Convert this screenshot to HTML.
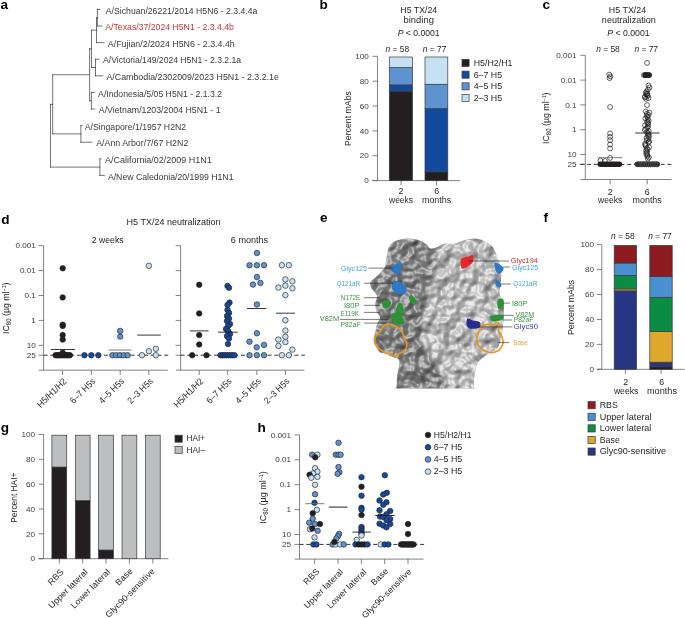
<!DOCTYPE html>
<html><head><meta charset="utf-8"><style>
html,body{margin:0;padding:0;background:#fff;}
body{width:685px;height:618px;overflow:hidden;}
svg{display:block;font-family:"Liberation Sans",sans-serif;will-change:transform;}
</style></head><body>
<svg width="685" height="618" viewBox="0 0 685 618">
<rect width="685" height="618" fill="#fff"/>
<text transform="translate(0.60,9.00) scale(1.0800,1)" x="0.00" y="0" font-size="12.60" fill="#000" font-weight="bold">a</text>
<text transform="translate(105.80,13.60) scale(0.9988,1)" x="0.00" y="0" font-size="8.70" fill="#3a3a3c">A/Sichuan/26221/2014 H5N6 - 2.3.4.4a</text>
<text transform="translate(105.30,30.20) scale(1.0019,1)" x="0.00" y="0" font-size="8.70" fill="#cc3339">A/Texas/37/2024 H5N1 - 2.3.4.4b</text>
<text transform="translate(107.80,46.80) scale(1.0202,1)" x="0.00" y="0" font-size="8.70" fill="#3a3a3c">A/Fujian/2/2024 H5N6 - 2.3.4.4h</text>
<text transform="translate(103.10,63.40) scale(0.9899,1)" x="0.00" y="0" font-size="8.70" fill="#3a3a3c">A/Victoria/149/2024 H5N1 - 2.3.2.1a</text>
<text transform="translate(106.40,80.00) scale(1.0172,1)" x="0.00" y="0" font-size="8.70" fill="#3a3a3c">A/Cambodia/2302009/2023 H5N1 - 2.3.2.1e</text>
<text transform="translate(98.10,96.60) scale(0.9968,1)" x="0.00" y="0" font-size="8.70" fill="#3a3a3c">A/Indonesia/5/05 H5N1 - 2.1.3.2</text>
<text transform="translate(98.80,113.20) scale(1.0095,1)" x="0.00" y="0" font-size="8.70" fill="#3a3a3c">A/Vietnam/1203/2004 H5N1 - 1</text>
<text transform="translate(84.80,129.80) scale(0.9963,1)" x="0.00" y="0" font-size="8.70" fill="#3a3a3c">A/Singapore/1/1957 H2N2</text>
<text transform="translate(96.20,146.40) scale(1.0140,1)" x="0.00" y="0" font-size="8.70" fill="#3a3a3c">A/Ann Arbor/7/67 H2N2</text>
<text transform="translate(105.00,163.00) scale(1.0319,1)" x="0.00" y="0" font-size="8.70" fill="#3a3a3c">A/California/02/2009 H1N1</text>
<text transform="translate(107.90,179.60)" x="0.00" y="0" font-size="8.70" fill="#3a3a3c">A/New Caledonia/20/1999 H1N1</text>
<line x1="97.40" y1="9.40" x2="97.40" y2="26.00" stroke="#3a3a3c" stroke-width="0.70" stroke-linecap="square"/>
<line x1="97.40" y1="9.40" x2="99.80" y2="9.40" stroke="#3a3a3c" stroke-width="0.70" stroke-linecap="square"/>
<line x1="97.40" y1="26.00" x2="101.90" y2="26.00" stroke="#3a3a3c" stroke-width="0.70" stroke-linecap="square"/>
<line x1="96.50" y1="17.70" x2="97.40" y2="17.70" stroke="#3a3a3c" stroke-width="0.70" stroke-linecap="square"/>
<line x1="96.50" y1="17.70" x2="96.50" y2="42.60" stroke="#3a3a3c" stroke-width="0.70" stroke-linecap="square"/>
<line x1="96.50" y1="42.60" x2="104.00" y2="42.60" stroke="#3a3a3c" stroke-width="0.70" stroke-linecap="square"/>
<line x1="91.50" y1="30.15" x2="96.50" y2="30.15" stroke="#3a3a3c" stroke-width="0.70" stroke-linecap="square"/>
<line x1="95.50" y1="59.20" x2="95.50" y2="75.80" stroke="#3a3a3c" stroke-width="0.70" stroke-linecap="square"/>
<line x1="95.50" y1="59.20" x2="99.10" y2="59.20" stroke="#3a3a3c" stroke-width="0.70" stroke-linecap="square"/>
<line x1="95.50" y1="75.80" x2="102.80" y2="75.80" stroke="#3a3a3c" stroke-width="0.70" stroke-linecap="square"/>
<line x1="91.50" y1="67.50" x2="95.50" y2="67.50" stroke="#3a3a3c" stroke-width="0.70" stroke-linecap="square"/>
<line x1="91.50" y1="30.15" x2="91.50" y2="67.50" stroke="#3a3a3c" stroke-width="0.70" stroke-linecap="square"/>
<line x1="89.60" y1="48.83" x2="91.50" y2="48.83" stroke="#3a3a3c" stroke-width="0.70" stroke-linecap="square"/>
<line x1="91.40" y1="92.40" x2="91.40" y2="109.00" stroke="#3a3a3c" stroke-width="0.70" stroke-linecap="square"/>
<line x1="91.40" y1="92.40" x2="94.70" y2="92.40" stroke="#3a3a3c" stroke-width="0.70" stroke-linecap="square"/>
<line x1="91.40" y1="109.00" x2="94.70" y2="109.00" stroke="#3a3a3c" stroke-width="0.70" stroke-linecap="square"/>
<line x1="89.60" y1="100.70" x2="91.40" y2="100.70" stroke="#3a3a3c" stroke-width="0.70" stroke-linecap="square"/>
<line x1="89.60" y1="48.83" x2="89.60" y2="100.70" stroke="#3a3a3c" stroke-width="0.70" stroke-linecap="square"/>
<line x1="52.70" y1="74.76" x2="89.60" y2="74.76" stroke="#3a3a3c" stroke-width="0.70" stroke-linecap="square"/>
<line x1="80.90" y1="125.60" x2="80.90" y2="142.20" stroke="#3a3a3c" stroke-width="0.70" stroke-linecap="square"/>
<line x1="80.90" y1="125.60" x2="82.00" y2="125.60" stroke="#3a3a3c" stroke-width="0.70" stroke-linecap="square"/>
<line x1="80.90" y1="142.20" x2="91.80" y2="142.20" stroke="#3a3a3c" stroke-width="0.70" stroke-linecap="square"/>
<line x1="52.70" y1="133.90" x2="80.90" y2="133.90" stroke="#3a3a3c" stroke-width="0.70" stroke-linecap="square"/>
<line x1="52.70" y1="74.76" x2="52.70" y2="133.90" stroke="#3a3a3c" stroke-width="0.70" stroke-linecap="square"/>
<line x1="50.50" y1="104.33" x2="52.70" y2="104.33" stroke="#3a3a3c" stroke-width="0.70" stroke-linecap="square"/>
<line x1="99.90" y1="158.80" x2="99.90" y2="175.40" stroke="#3a3a3c" stroke-width="0.70" stroke-linecap="square"/>
<line x1="99.90" y1="158.80" x2="101.00" y2="158.80" stroke="#3a3a3c" stroke-width="0.70" stroke-linecap="square"/>
<line x1="99.90" y1="175.40" x2="104.20" y2="175.40" stroke="#3a3a3c" stroke-width="0.70" stroke-linecap="square"/>
<line x1="50.50" y1="167.10" x2="99.90" y2="167.10" stroke="#3a3a3c" stroke-width="0.70" stroke-linecap="square"/>
<line x1="50.50" y1="104.33" x2="50.50" y2="167.10" stroke="#3a3a3c" stroke-width="0.70" stroke-linecap="square"/>
<text transform="translate(319.50,9.00) scale(1.0800,1)" x="0.00" y="0" font-size="12.60" fill="#000" font-weight="bold">b</text>
<text transform="translate(418.80,12.80) scale(0.9748,1)" x="-18.93" y="0" font-size="9.00" fill="#231f20">H5 TX/24</text>
<text transform="translate(418.70,23.00) scale(1.0473,1)" x="-14.51" y="0" font-size="9.00" fill="#231f20">binding</text>
<text transform="translate(418.70,36.20) scale(0.9592,1)" x="-21.89" y="0" font-size="9.00" fill="#231f20"><tspan font-style="italic">P</tspan> &lt; 0.0001</text>
<line x1="377.50" y1="56.30" x2="377.50" y2="180.60" stroke="#58595b" stroke-width="0.75"/>
<line x1="372.50" y1="180.60" x2="377.50" y2="180.60" stroke="#58595b" stroke-width="0.75"/>
<text transform="translate(368.80,183.25) scale(1.0200,1)" x="-4.45" y="0" font-size="8.00" fill="#3c3c3e">0</text>
<line x1="372.50" y1="155.74" x2="377.50" y2="155.74" stroke="#58595b" stroke-width="0.75"/>
<text transform="translate(368.80,158.39) scale(1.0200,1)" x="-8.90" y="0" font-size="8.00" fill="#3c3c3e">20</text>
<line x1="372.50" y1="130.88" x2="377.50" y2="130.88" stroke="#58595b" stroke-width="0.75"/>
<text transform="translate(368.80,133.53) scale(1.0200,1)" x="-8.90" y="0" font-size="8.00" fill="#3c3c3e">40</text>
<line x1="372.50" y1="106.02" x2="377.50" y2="106.02" stroke="#58595b" stroke-width="0.75"/>
<text transform="translate(368.80,108.67) scale(1.0200,1)" x="-8.90" y="0" font-size="8.00" fill="#3c3c3e">60</text>
<line x1="372.50" y1="81.16" x2="377.50" y2="81.16" stroke="#58595b" stroke-width="0.75"/>
<text transform="translate(368.80,83.81) scale(1.0200,1)" x="-8.90" y="0" font-size="8.00" fill="#3c3c3e">80</text>
<line x1="372.50" y1="56.30" x2="377.50" y2="56.30" stroke="#58595b" stroke-width="0.75"/>
<text transform="translate(368.80,58.95) scale(1.0200,1)" x="-13.35" y="0" font-size="8.00" fill="#3c3c3e">100</text>
<line x1="372.30" y1="180.60" x2="460.00" y2="180.60" stroke="#58595b" stroke-width="0.75"/>
<line x1="401.05" y1="180.60" x2="401.05" y2="185.40" stroke="#58595b" stroke-width="0.75"/>
<line x1="436.60" y1="180.60" x2="436.60" y2="185.40" stroke="#58595b" stroke-width="0.75"/>
<rect x="389.30" y="91.10" width="23.20" height="89.50" fill="#231f20" stroke="#3a3a3c" stroke-width="0.70"/>
<rect x="389.30" y="84.89" width="23.20" height="6.22" fill="#134a9e" stroke="#3a3a3c" stroke-width="0.70"/>
<rect x="389.30" y="67.49" width="23.20" height="17.40" fill="#5f93cf" stroke="#3a3a3c" stroke-width="0.70"/>
<rect x="389.30" y="57.00" width="23.20" height="10.49" fill="#c5e2f5" stroke="#3a3a3c" stroke-width="0.70"/>
<rect x="425.00" y="171.90" width="22.80" height="8.70" fill="#231f20" stroke="#3a3a3c" stroke-width="0.70"/>
<rect x="425.00" y="108.51" width="22.80" height="63.39" fill="#134a9e" stroke="#3a3a3c" stroke-width="0.70"/>
<rect x="425.00" y="84.27" width="22.80" height="24.24" fill="#5f93cf" stroke="#3a3a3c" stroke-width="0.70"/>
<rect x="425.00" y="57.00" width="22.80" height="27.27" fill="#c5e2f5" stroke="#3a3a3c" stroke-width="0.70"/>
<text transform="translate(397.40,51.70) scale(0.9360,1)" x="-12.64" y="0" font-size="9.00" fill="#231f20"><tspan font-style="italic">n</tspan> = 58</text>
<text transform="translate(434.60,51.70) scale(0.9360,1)" x="-12.64" y="0" font-size="9.00" fill="#231f20"><tspan font-style="italic">n</tspan> = 77</text>
<text transform="translate(401.05,193.70) scale(0.9800,1)" x="-2.50" y="0" font-size="9.00" fill="#231f20">2</text>
<text transform="translate(401.05,202.70) scale(0.9447,1)" x="-12.76" y="0" font-size="9.00" fill="#231f20">weeks</text>
<text transform="translate(436.60,193.70) scale(0.9800,1)" x="-2.50" y="0" font-size="9.00" fill="#231f20">6</text>
<text transform="translate(436.60,202.70) scale(0.9893,1)" x="-14.76" y="0" font-size="9.00" fill="#231f20">months</text>
<text transform="translate(351.30,118.50) rotate(-90) scale(0.9730,1)" x="-28.26" y="0" font-size="9.00" fill="#231f20">Percent mAbs</text>
<rect x="462.00" y="59.40" width="7.10" height="7.10" fill="#231f20" stroke="#3a3a3c" stroke-width="0.70"/>
<text transform="translate(473.70,65.90) scale(0.9800,1)" x="0.00" y="0" font-size="9.00" fill="#231f20">H5/H2/H1</text>
<rect x="462.00" y="71.10" width="7.10" height="7.10" fill="#134a9e" stroke="#3a3a3c" stroke-width="0.70"/>
<text transform="translate(473.70,77.60) scale(0.9800,1)" x="0.00" y="0" font-size="9.00" fill="#231f20">6–7 H5</text>
<rect x="462.00" y="82.80" width="7.10" height="7.10" fill="#5f93cf" stroke="#3a3a3c" stroke-width="0.70"/>
<text transform="translate(473.70,89.30) scale(0.9800,1)" x="0.00" y="0" font-size="9.00" fill="#231f20">4–5 H5</text>
<rect x="462.00" y="94.50" width="7.10" height="7.10" fill="#c5e2f5" stroke="#3a3a3c" stroke-width="0.70"/>
<text transform="translate(473.70,101.00) scale(0.9800,1)" x="0.00" y="0" font-size="9.00" fill="#231f20">2–3 H5</text>
<text transform="translate(542.60,9.20) scale(1.0800,1)" x="0.00" y="0" font-size="12.60" fill="#000" font-weight="bold">c</text>
<text transform="translate(627.50,12.80) scale(0.9906,1)" x="-18.93" y="0" font-size="9.00" fill="#231f20">H5 TX/24</text>
<text transform="translate(628.90,22.90) scale(1.0105,1)" x="-26.77" y="0" font-size="9.00" fill="#231f20">neutralization</text>
<text transform="translate(628.50,36.30) scale(0.9660,1)" x="-21.89" y="0" font-size="9.00" fill="#231f20"><tspan font-style="italic">P</tspan> &lt; 0.0001</text>
<line x1="585.30" y1="55.30" x2="585.30" y2="179.50" stroke="#58595b" stroke-width="0.75"/>
<line x1="580.30" y1="55.30" x2="585.30" y2="55.30" stroke="#58595b" stroke-width="0.75"/>
<text transform="translate(576.60,57.95) scale(1.0200,1)" x="-20.02" y="0" font-size="8.00" fill="#3c3c3e">0.001</text>
<line x1="580.30" y1="80.10" x2="585.30" y2="80.10" stroke="#58595b" stroke-width="0.75"/>
<text transform="translate(576.60,82.75) scale(1.0200,1)" x="-15.57" y="0" font-size="8.00" fill="#3c3c3e">0.01</text>
<line x1="580.30" y1="104.90" x2="585.30" y2="104.90" stroke="#58595b" stroke-width="0.75"/>
<text transform="translate(576.60,107.55) scale(1.0200,1)" x="-11.12" y="0" font-size="8.00" fill="#3c3c3e">0.1</text>
<line x1="580.30" y1="129.70" x2="585.30" y2="129.70" stroke="#58595b" stroke-width="0.75"/>
<text transform="translate(576.60,132.35) scale(1.0200,1)" x="-4.45" y="0" font-size="8.00" fill="#3c3c3e">1</text>
<line x1="580.30" y1="154.50" x2="585.30" y2="154.50" stroke="#58595b" stroke-width="0.75"/>
<text transform="translate(576.60,157.15) scale(1.0200,1)" x="-8.90" y="0" font-size="8.00" fill="#3c3c3e">10</text>
<line x1="580.30" y1="164.37" x2="585.30" y2="164.37" stroke="#58595b" stroke-width="0.75"/>
<text transform="translate(576.60,167.02) scale(1.0200,1)" x="-8.90" y="0" font-size="8.00" fill="#3c3c3e">25</text>
<line x1="580.40" y1="179.50" x2="671.50" y2="179.50" stroke="#58595b" stroke-width="0.75"/>
<line x1="610.10" y1="179.50" x2="610.10" y2="184.30" stroke="#58595b" stroke-width="0.75"/>
<line x1="647.20" y1="179.50" x2="647.20" y2="184.30" stroke="#58595b" stroke-width="0.75"/>
<text transform="translate(608.00,51.60) scale(0.9360,1)" x="-12.64" y="0" font-size="9.00" fill="#231f20"><tspan font-style="italic">n</tspan> = 58</text>
<text transform="translate(646.20,51.60) scale(0.9360,1)" x="-12.64" y="0" font-size="9.00" fill="#231f20"><tspan font-style="italic">n</tspan> = 77</text>
<text transform="translate(610.10,194.60) scale(0.9800,1)" x="-2.50" y="0" font-size="9.00" fill="#231f20">2</text>
<text transform="translate(610.10,203.40) scale(0.9447,1)" x="-12.76" y="0" font-size="9.00" fill="#231f20">weeks</text>
<text transform="translate(647.20,194.60) scale(0.9800,1)" x="-2.50" y="0" font-size="9.00" fill="#231f20">6</text>
<text transform="translate(647.20,203.40) scale(0.9893,1)" x="-14.76" y="0" font-size="9.00" fill="#231f20">months</text>
<text transform="translate(549.00,118.20) rotate(-90) scale(0.9188,1)" x="-28.08" y="0" font-size="9.60" fill="#231f20">IC<tspan font-size="6.53" dy="2.00">80</tspan><tspan dy="-2.00"> (µg ml</tspan><tspan font-size="5.76" dy="-3.20">−1</tspan><tspan dy="3.20">)</tspan></text>
<line x1="580.30" y1="164.37" x2="673.00" y2="164.37" stroke="#231f20" stroke-width="0.90" stroke-dasharray="4,2.7"/>
<circle cx="609.30" cy="74.60" r="2.45" fill="none" stroke="#231f20" stroke-width="0.70"/>
<circle cx="610.30" cy="76.40" r="2.45" fill="none" stroke="#231f20" stroke-width="0.70"/>
<circle cx="609.60" cy="78.10" r="2.45" fill="none" stroke="#231f20" stroke-width="0.70"/>
<circle cx="610.10" cy="107.00" r="2.45" fill="none" stroke="#231f20" stroke-width="0.70"/>
<circle cx="610.10" cy="133.40" r="2.45" fill="none" stroke="#231f20" stroke-width="0.70"/>
<circle cx="610.10" cy="136.90" r="2.45" fill="none" stroke="#231f20" stroke-width="0.70"/>
<circle cx="610.10" cy="140.10" r="2.45" fill="none" stroke="#231f20" stroke-width="0.70"/>
<circle cx="610.10" cy="144.50" r="2.45" fill="none" stroke="#231f20" stroke-width="0.70"/>
<circle cx="610.10" cy="148.50" r="2.45" fill="none" stroke="#231f20" stroke-width="0.70"/>
<circle cx="610.10" cy="157.90" r="2.45" fill="none" stroke="#231f20" stroke-width="0.70"/>
<circle cx="600.50" cy="160.80" r="2.45" fill="none" stroke="#231f20" stroke-width="0.70"/>
<circle cx="605.00" cy="161.00" r="2.45" fill="none" stroke="#231f20" stroke-width="0.70"/>
<rect x="597.6" y="161.62" width="24.5" height="5.5" rx="2.75" fill="#231f20"/>
<rect x="634.6" y="161.62" width="25.4" height="5.5" rx="2.75" fill="#262626"/>
<circle cx="638.00" cy="164.37" r="2.45" fill="none" stroke="#4a4a4a" stroke-width="0.70"/>
<circle cx="640.10" cy="164.37" r="2.45" fill="none" stroke="#4a4a4a" stroke-width="0.70"/>
<circle cx="642.20" cy="164.37" r="2.45" fill="none" stroke="#4a4a4a" stroke-width="0.70"/>
<circle cx="644.30" cy="164.37" r="2.45" fill="none" stroke="#4a4a4a" stroke-width="0.70"/>
<circle cx="646.40" cy="164.37" r="2.45" fill="none" stroke="#4a4a4a" stroke-width="0.70"/>
<circle cx="648.50" cy="164.37" r="2.45" fill="none" stroke="#4a4a4a" stroke-width="0.70"/>
<circle cx="650.60" cy="164.37" r="2.45" fill="none" stroke="#4a4a4a" stroke-width="0.70"/>
<circle cx="652.70" cy="164.37" r="2.45" fill="none" stroke="#4a4a4a" stroke-width="0.70"/>
<circle cx="654.80" cy="164.37" r="2.45" fill="none" stroke="#4a4a4a" stroke-width="0.70"/>
<circle cx="656.90" cy="164.37" r="2.45" fill="none" stroke="#4a4a4a" stroke-width="0.70"/>
<rect x="642.6" y="72.4" width="9.3" height="5.4" rx="2.7" fill="#2e2e2e"/>
<circle cx="647.00" cy="62.90" r="2.45" fill="none" stroke="#231f20" stroke-width="0.70"/>
<circle cx="644.00" cy="75.10" r="2.45" fill="none" stroke="#231f20" stroke-width="0.70"/>
<circle cx="645.00" cy="75.10" r="2.45" fill="none" stroke="#231f20" stroke-width="0.70"/>
<circle cx="646.00" cy="75.10" r="2.45" fill="none" stroke="#231f20" stroke-width="0.70"/>
<circle cx="647.00" cy="75.10" r="2.45" fill="none" stroke="#231f20" stroke-width="0.70"/>
<circle cx="648.00" cy="75.10" r="2.45" fill="none" stroke="#231f20" stroke-width="0.70"/>
<circle cx="649.00" cy="75.10" r="2.45" fill="none" stroke="#231f20" stroke-width="0.70"/>
<circle cx="648.50" cy="85.50" r="2.45" fill="none" stroke="#231f20" stroke-width="0.70"/>
<circle cx="649.50" cy="87.50" r="2.45" fill="none" stroke="#231f20" stroke-width="0.70"/>
<circle cx="648.00" cy="89.50" r="2.45" fill="none" stroke="#231f20" stroke-width="0.70"/>
<circle cx="646.50" cy="91.50" r="2.45" fill="none" stroke="#231f20" stroke-width="0.70"/>
<circle cx="645.85" cy="92.80" r="2.45" fill="none" stroke="#231f20" stroke-width="0.70"/>
<circle cx="647.19" cy="93.55" r="2.45" fill="none" stroke="#231f20" stroke-width="0.70"/>
<circle cx="646.43" cy="94.30" r="2.45" fill="none" stroke="#231f20" stroke-width="0.70"/>
<circle cx="647.46" cy="95.05" r="2.45" fill="none" stroke="#231f20" stroke-width="0.70"/>
<circle cx="647.55" cy="95.80" r="2.45" fill="none" stroke="#231f20" stroke-width="0.70"/>
<circle cx="645.09" cy="96.55" r="2.45" fill="none" stroke="#231f20" stroke-width="0.70"/>
<circle cx="644.86" cy="97.30" r="2.45" fill="none" stroke="#231f20" stroke-width="0.70"/>
<circle cx="648.48" cy="98.05" r="2.45" fill="none" stroke="#231f20" stroke-width="0.70"/>
<circle cx="645.94" cy="98.80" r="2.45" fill="none" stroke="#231f20" stroke-width="0.70"/>
<circle cx="647.00" cy="105.10" r="2.45" fill="none" stroke="#231f20" stroke-width="0.70"/>
<circle cx="645.78" cy="111.50" r="2.45" fill="none" stroke="#231f20" stroke-width="0.70"/>
<circle cx="649.28" cy="112.65" r="2.45" fill="none" stroke="#231f20" stroke-width="0.70"/>
<circle cx="646.86" cy="113.80" r="2.45" fill="none" stroke="#231f20" stroke-width="0.70"/>
<circle cx="648.55" cy="114.95" r="2.45" fill="none" stroke="#231f20" stroke-width="0.70"/>
<circle cx="646.89" cy="116.10" r="2.45" fill="none" stroke="#231f20" stroke-width="0.70"/>
<circle cx="647.64" cy="117.25" r="2.45" fill="none" stroke="#231f20" stroke-width="0.70"/>
<circle cx="645.39" cy="118.40" r="2.45" fill="none" stroke="#231f20" stroke-width="0.70"/>
<circle cx="647.62" cy="119.55" r="2.45" fill="none" stroke="#231f20" stroke-width="0.70"/>
<circle cx="648.69" cy="120.70" r="2.45" fill="none" stroke="#231f20" stroke-width="0.70"/>
<circle cx="647.11" cy="121.85" r="2.45" fill="none" stroke="#231f20" stroke-width="0.70"/>
<circle cx="648.11" cy="123.00" r="2.45" fill="none" stroke="#231f20" stroke-width="0.70"/>
<circle cx="647.79" cy="124.15" r="2.45" fill="none" stroke="#231f20" stroke-width="0.70"/>
<circle cx="644.99" cy="125.30" r="2.45" fill="none" stroke="#231f20" stroke-width="0.70"/>
<circle cx="648.19" cy="126.45" r="2.45" fill="none" stroke="#231f20" stroke-width="0.70"/>
<circle cx="647.42" cy="127.60" r="2.45" fill="none" stroke="#231f20" stroke-width="0.70"/>
<circle cx="646.09" cy="128.75" r="2.45" fill="none" stroke="#231f20" stroke-width="0.70"/>
<circle cx="644.84" cy="129.90" r="2.45" fill="none" stroke="#231f20" stroke-width="0.70"/>
<circle cx="648.68" cy="131.05" r="2.45" fill="none" stroke="#231f20" stroke-width="0.70"/>
<circle cx="646.87" cy="132.20" r="2.45" fill="none" stroke="#231f20" stroke-width="0.70"/>
<circle cx="648.01" cy="133.35" r="2.45" fill="none" stroke="#231f20" stroke-width="0.70"/>
<circle cx="648.74" cy="134.50" r="2.45" fill="none" stroke="#231f20" stroke-width="0.70"/>
<circle cx="647.98" cy="135.65" r="2.45" fill="none" stroke="#231f20" stroke-width="0.70"/>
<circle cx="648.94" cy="136.80" r="2.45" fill="none" stroke="#231f20" stroke-width="0.70"/>
<circle cx="646.52" cy="137.95" r="2.45" fill="none" stroke="#231f20" stroke-width="0.70"/>
<circle cx="648.38" cy="139.10" r="2.45" fill="none" stroke="#231f20" stroke-width="0.70"/>
<circle cx="646.75" cy="140.25" r="2.45" fill="none" stroke="#231f20" stroke-width="0.70"/>
<circle cx="649.00" cy="141.40" r="2.45" fill="none" stroke="#231f20" stroke-width="0.70"/>
<circle cx="648.74" cy="142.55" r="2.45" fill="none" stroke="#231f20" stroke-width="0.70"/>
<circle cx="645.15" cy="143.70" r="2.45" fill="none" stroke="#231f20" stroke-width="0.70"/>
<circle cx="645.33" cy="144.85" r="2.45" fill="none" stroke="#231f20" stroke-width="0.70"/>
<circle cx="645.70" cy="146.00" r="2.45" fill="none" stroke="#231f20" stroke-width="0.70"/>
<circle cx="649.14" cy="147.15" r="2.45" fill="none" stroke="#231f20" stroke-width="0.70"/>
<circle cx="646.71" cy="148.30" r="2.45" fill="none" stroke="#231f20" stroke-width="0.70"/>
<circle cx="647.58" cy="149.45" r="2.45" fill="none" stroke="#231f20" stroke-width="0.70"/>
<circle cx="646.08" cy="150.60" r="2.45" fill="none" stroke="#231f20" stroke-width="0.70"/>
<circle cx="647.03" cy="151.75" r="2.45" fill="none" stroke="#231f20" stroke-width="0.70"/>
<circle cx="646.47" cy="152.90" r="2.45" fill="none" stroke="#231f20" stroke-width="0.70"/>
<circle cx="646.31" cy="154.05" r="2.45" fill="none" stroke="#231f20" stroke-width="0.70"/>
<circle cx="647.39" cy="155.20" r="2.45" fill="none" stroke="#231f20" stroke-width="0.70"/>
<circle cx="647.39" cy="156.35" r="2.45" fill="none" stroke="#231f20" stroke-width="0.70"/>
<circle cx="648.86" cy="157.50" r="2.45" fill="none" stroke="#231f20" stroke-width="0.70"/>
<circle cx="647.84" cy="158.65" r="2.45" fill="none" stroke="#231f20" stroke-width="0.70"/>
<line x1="597.60" y1="157.70" x2="622.40" y2="157.70" stroke="#6d6e71" stroke-width="0.90"/>
<line x1="635.20" y1="133.00" x2="659.50" y2="133.00" stroke="#231f20" stroke-width="0.90"/>
<text transform="translate(1.20,223.60) scale(1.0800,1)" x="0.00" y="0" font-size="12.60" fill="#000" font-weight="bold">d</text>
<text transform="translate(173.60,224.60) scale(1.0022,1)" x="-46.95" y="0" font-size="9.00" fill="#231f20">H5 TX/24 neutralization</text>
<text transform="translate(107.70,243.40) scale(0.9632,1)" x="-16.51" y="0" font-size="9.00" fill="#231f20">2 weeks</text>
<text transform="translate(249.50,242.70) scale(1.0103,1)" x="-18.51" y="0" font-size="9.00" fill="#231f20">6 months</text>
<line x1="43.60" y1="245.70" x2="43.60" y2="370.20" stroke="#58595b" stroke-width="0.75"/>
<line x1="38.60" y1="245.70" x2="43.60" y2="245.70" stroke="#58595b" stroke-width="0.75"/>
<text transform="translate(35.80,248.35) scale(1.0200,1)" x="-20.02" y="0" font-size="8.00" fill="#3c3c3e">0.001</text>
<line x1="38.60" y1="270.60" x2="43.60" y2="270.60" stroke="#58595b" stroke-width="0.75"/>
<text transform="translate(35.80,273.25) scale(1.0200,1)" x="-15.57" y="0" font-size="8.00" fill="#3c3c3e">0.01</text>
<line x1="38.60" y1="295.50" x2="43.60" y2="295.50" stroke="#58595b" stroke-width="0.75"/>
<text transform="translate(35.80,298.15) scale(1.0200,1)" x="-11.12" y="0" font-size="8.00" fill="#3c3c3e">0.1</text>
<line x1="38.60" y1="320.40" x2="43.60" y2="320.40" stroke="#58595b" stroke-width="0.75"/>
<text transform="translate(35.80,323.05) scale(1.0200,1)" x="-4.45" y="0" font-size="8.00" fill="#3c3c3e">1</text>
<line x1="38.60" y1="345.30" x2="43.60" y2="345.30" stroke="#58595b" stroke-width="0.75"/>
<text transform="translate(35.80,347.95) scale(1.0200,1)" x="-8.90" y="0" font-size="8.00" fill="#3c3c3e">10</text>
<line x1="38.60" y1="355.21" x2="43.60" y2="355.21" stroke="#58595b" stroke-width="0.75"/>
<text transform="translate(35.80,357.86) scale(1.0200,1)" x="-8.90" y="0" font-size="8.00" fill="#3c3c3e">25</text>
<line x1="180.60" y1="245.70" x2="180.60" y2="370.20" stroke="#58595b" stroke-width="0.75"/>
<line x1="175.60" y1="245.70" x2="180.60" y2="245.70" stroke="#58595b" stroke-width="0.75"/>
<line x1="175.60" y1="270.60" x2="180.60" y2="270.60" stroke="#58595b" stroke-width="0.75"/>
<line x1="175.60" y1="295.50" x2="180.60" y2="295.50" stroke="#58595b" stroke-width="0.75"/>
<line x1="175.60" y1="320.40" x2="180.60" y2="320.40" stroke="#58595b" stroke-width="0.75"/>
<line x1="175.60" y1="345.30" x2="180.60" y2="345.30" stroke="#58595b" stroke-width="0.75"/>
<line x1="175.60" y1="355.21" x2="180.60" y2="355.21" stroke="#58595b" stroke-width="0.75"/>
<line x1="38.60" y1="370.20" x2="167.80" y2="370.20" stroke="#58595b" stroke-width="0.75"/>
<line x1="62.50" y1="370.20" x2="62.50" y2="375.00" stroke="#58595b" stroke-width="0.75"/>
<line x1="91.40" y1="370.20" x2="91.40" y2="375.00" stroke="#58595b" stroke-width="0.75"/>
<line x1="120.20" y1="370.20" x2="120.20" y2="375.00" stroke="#58595b" stroke-width="0.75"/>
<line x1="148.90" y1="370.20" x2="148.90" y2="375.00" stroke="#58595b" stroke-width="0.75"/>
<line x1="175.90" y1="370.20" x2="304.40" y2="370.20" stroke="#58595b" stroke-width="0.75"/>
<line x1="199.20" y1="370.20" x2="199.20" y2="375.00" stroke="#58595b" stroke-width="0.75"/>
<line x1="227.70" y1="370.20" x2="227.70" y2="375.00" stroke="#58595b" stroke-width="0.75"/>
<line x1="256.90" y1="370.20" x2="256.90" y2="375.00" stroke="#58595b" stroke-width="0.75"/>
<line x1="285.40" y1="370.20" x2="285.40" y2="375.00" stroke="#58595b" stroke-width="0.75"/>
<line x1="43.60" y1="355.21" x2="169.00" y2="355.21" stroke="#231f20" stroke-width="0.90" stroke-dasharray="4,2.7"/>
<line x1="180.60" y1="355.21" x2="305.00" y2="355.21" stroke="#231f20" stroke-width="0.90" stroke-dasharray="4,2.7"/>
<text transform="translate(67.10,381.80) rotate(-45) scale(0.9450,1)" x="-39.52" y="0" font-size="9.00" fill="#231f20">H5/H1/H2</text>
<text transform="translate(96.00,381.80) rotate(-45) scale(0.9450,1)" x="-33.52" y="0" font-size="9.00" fill="#231f20">6–7 H5s</text>
<text transform="translate(124.80,381.80) rotate(-45) scale(0.9450,1)" x="-33.52" y="0" font-size="9.00" fill="#231f20">4–5 H5s</text>
<text transform="translate(153.50,381.80) rotate(-45) scale(0.9450,1)" x="-33.52" y="0" font-size="9.00" fill="#231f20">2–3 H5s</text>
<text transform="translate(203.80,381.80) rotate(-45) scale(0.9450,1)" x="-39.52" y="0" font-size="9.00" fill="#231f20">H5/H1/H2</text>
<text transform="translate(232.30,381.80) rotate(-45) scale(0.9450,1)" x="-33.52" y="0" font-size="9.00" fill="#231f20">6–7 H5s</text>
<text transform="translate(261.50,381.80) rotate(-45) scale(0.9450,1)" x="-33.52" y="0" font-size="9.00" fill="#231f20">4–5 H5s</text>
<text transform="translate(290.00,381.80) rotate(-45) scale(0.9450,1)" x="-33.52" y="0" font-size="9.00" fill="#231f20">2–3 H5s</text>
<text transform="translate(9.10,308.20) rotate(-90) scale(0.9171,1)" x="-28.08" y="0" font-size="9.60" fill="#231f20">IC<tspan font-size="6.53" dy="2.00">80</tspan><tspan dy="-2.00"> (µg ml</tspan><tspan font-size="5.76" dy="-3.20">−1</tspan><tspan dy="3.20">)</tspan></text>
<circle cx="62.70" cy="268.30" r="2.75" fill="#231f20" stroke="#231f20" stroke-width="0.65"/>
<circle cx="62.70" cy="297.40" r="2.75" fill="#231f20" stroke="#231f20" stroke-width="0.65"/>
<circle cx="62.70" cy="324.70" r="2.75" fill="#231f20" stroke="#231f20" stroke-width="0.65"/>
<circle cx="62.70" cy="326.00" r="2.75" fill="#231f20" stroke="#231f20" stroke-width="0.65"/>
<circle cx="62.70" cy="335.10" r="2.75" fill="#231f20" stroke="#231f20" stroke-width="0.65"/>
<circle cx="62.70" cy="339.60" r="2.75" fill="#231f20" stroke="#231f20" stroke-width="0.65"/>
<circle cx="55.60" cy="355.21" r="2.75" fill="#231f20" stroke="#231f20" stroke-width="0.65"/>
<circle cx="56.90" cy="355.21" r="2.75" fill="#231f20" stroke="#231f20" stroke-width="0.65"/>
<circle cx="58.20" cy="355.21" r="2.75" fill="#231f20" stroke="#231f20" stroke-width="0.65"/>
<circle cx="59.50" cy="355.21" r="2.75" fill="#231f20" stroke="#231f20" stroke-width="0.65"/>
<circle cx="60.80" cy="355.21" r="2.75" fill="#231f20" stroke="#231f20" stroke-width="0.65"/>
<circle cx="62.10" cy="355.21" r="2.75" fill="#231f20" stroke="#231f20" stroke-width="0.65"/>
<circle cx="63.40" cy="355.21" r="2.75" fill="#231f20" stroke="#231f20" stroke-width="0.65"/>
<circle cx="64.70" cy="355.21" r="2.75" fill="#231f20" stroke="#231f20" stroke-width="0.65"/>
<circle cx="66.00" cy="355.21" r="2.75" fill="#231f20" stroke="#231f20" stroke-width="0.65"/>
<circle cx="67.30" cy="355.21" r="2.75" fill="#231f20" stroke="#231f20" stroke-width="0.65"/>
<circle cx="68.60" cy="355.21" r="2.75" fill="#231f20" stroke="#231f20" stroke-width="0.65"/>
<circle cx="69.90" cy="355.21" r="2.75" fill="#231f20" stroke="#231f20" stroke-width="0.65"/>
<circle cx="62.70" cy="352.70" r="2.75" fill="#231f20" stroke="#231f20" stroke-width="0.65"/>
<line x1="50.90" y1="349.50" x2="75.00" y2="349.50" stroke="#231f20" stroke-width="0.90"/>
<circle cx="84.40" cy="355.21" r="2.75" fill="#134a9e" stroke="#231f20" stroke-width="0.65"/>
<circle cx="91.30" cy="355.21" r="2.75" fill="#134a9e" stroke="#231f20" stroke-width="0.65"/>
<circle cx="98.30" cy="355.21" r="2.75" fill="#134a9e" stroke="#231f20" stroke-width="0.65"/>
<circle cx="120.20" cy="330.90" r="2.75" fill="#5f93cf" stroke="#231f20" stroke-width="0.65"/>
<circle cx="120.20" cy="336.60" r="2.75" fill="#5f93cf" stroke="#231f20" stroke-width="0.65"/>
<circle cx="112.40" cy="355.21" r="2.75" fill="#5f93cf" stroke="#231f20" stroke-width="0.65"/>
<circle cx="116.20" cy="355.21" r="2.75" fill="#5f93cf" stroke="#231f20" stroke-width="0.65"/>
<circle cx="120.00" cy="355.21" r="2.75" fill="#5f93cf" stroke="#231f20" stroke-width="0.65"/>
<circle cx="123.80" cy="355.21" r="2.75" fill="#5f93cf" stroke="#231f20" stroke-width="0.65"/>
<circle cx="127.60" cy="355.21" r="2.75" fill="#5f93cf" stroke="#231f20" stroke-width="0.65"/>
<line x1="108.50" y1="350.00" x2="131.50" y2="350.00" stroke="#6d6e71" stroke-width="0.90"/>
<circle cx="148.90" cy="265.80" r="2.75" fill="#c5e2f5" stroke="#231f20" stroke-width="0.65"/>
<circle cx="142.00" cy="355.21" r="2.75" fill="#c5e2f5" stroke="#231f20" stroke-width="0.65"/>
<circle cx="148.90" cy="351.20" r="2.75" fill="#c5e2f5" stroke="#231f20" stroke-width="0.65"/>
<circle cx="155.90" cy="348.80" r="2.75" fill="#c5e2f5" stroke="#231f20" stroke-width="0.65"/>
<circle cx="155.90" cy="355.21" r="2.75" fill="#c5e2f5" stroke="#231f20" stroke-width="0.65"/>
<line x1="137.30" y1="335.10" x2="160.80" y2="335.10" stroke="#231f20" stroke-width="0.90"/>
<circle cx="199.20" cy="284.80" r="2.75" fill="#231f20" stroke="#231f20" stroke-width="0.65"/>
<circle cx="199.20" cy="313.40" r="2.75" fill="#231f20" stroke="#231f20" stroke-width="0.65"/>
<circle cx="199.20" cy="335.10" r="2.75" fill="#231f20" stroke="#231f20" stroke-width="0.65"/>
<circle cx="199.20" cy="344.50" r="2.75" fill="#231f20" stroke="#231f20" stroke-width="0.65"/>
<circle cx="192.20" cy="355.21" r="2.75" fill="#231f20" stroke="#231f20" stroke-width="0.65"/>
<circle cx="206.50" cy="355.21" r="2.75" fill="#231f20" stroke="#231f20" stroke-width="0.65"/>
<line x1="189.90" y1="330.90" x2="208.60" y2="330.90" stroke="#231f20" stroke-width="0.90"/>
<circle cx="227.50" cy="285.90" r="2.75" fill="#134a9e" stroke="#231f20" stroke-width="0.65"/>
<circle cx="229.00" cy="287.80" r="2.75" fill="#134a9e" stroke="#231f20" stroke-width="0.65"/>
<circle cx="229.50" cy="302.60" r="2.75" fill="#134a9e" stroke="#231f20" stroke-width="0.65"/>
<circle cx="227.50" cy="305.00" r="2.75" fill="#134a9e" stroke="#231f20" stroke-width="0.65"/>
<circle cx="227.50" cy="310.00" r="2.75" fill="#134a9e" stroke="#231f20" stroke-width="0.65"/>
<circle cx="229.00" cy="313.00" r="2.75" fill="#134a9e" stroke="#231f20" stroke-width="0.65"/>
<circle cx="227.00" cy="316.00" r="2.75" fill="#134a9e" stroke="#231f20" stroke-width="0.65"/>
<circle cx="229.00" cy="318.50" r="2.75" fill="#134a9e" stroke="#231f20" stroke-width="0.65"/>
<circle cx="227.00" cy="321.00" r="2.75" fill="#134a9e" stroke="#231f20" stroke-width="0.65"/>
<circle cx="230.00" cy="324.00" r="2.75" fill="#134a9e" stroke="#231f20" stroke-width="0.65"/>
<circle cx="228.00" cy="326.00" r="2.75" fill="#134a9e" stroke="#231f20" stroke-width="0.65"/>
<circle cx="226.00" cy="329.00" r="2.75" fill="#134a9e" stroke="#231f20" stroke-width="0.65"/>
<circle cx="228.00" cy="331.00" r="2.75" fill="#134a9e" stroke="#231f20" stroke-width="0.65"/>
<circle cx="230.00" cy="334.00" r="2.75" fill="#134a9e" stroke="#231f20" stroke-width="0.65"/>
<circle cx="227.00" cy="336.00" r="2.75" fill="#134a9e" stroke="#231f20" stroke-width="0.65"/>
<circle cx="229.00" cy="338.50" r="2.75" fill="#134a9e" stroke="#231f20" stroke-width="0.65"/>
<circle cx="228.00" cy="344.00" r="2.75" fill="#134a9e" stroke="#231f20" stroke-width="0.65"/>
<circle cx="220.50" cy="355.21" r="2.75" fill="#134a9e" stroke="#231f20" stroke-width="0.65"/>
<circle cx="222.50" cy="355.21" r="2.75" fill="#134a9e" stroke="#231f20" stroke-width="0.65"/>
<circle cx="224.50" cy="355.21" r="2.75" fill="#134a9e" stroke="#231f20" stroke-width="0.65"/>
<circle cx="226.50" cy="355.21" r="2.75" fill="#134a9e" stroke="#231f20" stroke-width="0.65"/>
<circle cx="228.50" cy="355.21" r="2.75" fill="#134a9e" stroke="#231f20" stroke-width="0.65"/>
<circle cx="230.50" cy="355.21" r="2.75" fill="#134a9e" stroke="#231f20" stroke-width="0.65"/>
<circle cx="232.50" cy="355.21" r="2.75" fill="#134a9e" stroke="#231f20" stroke-width="0.65"/>
<circle cx="234.50" cy="355.21" r="2.75" fill="#134a9e" stroke="#231f20" stroke-width="0.65"/>
<line x1="218.00" y1="332.20" x2="237.60" y2="332.20" stroke="#231f20" stroke-width="0.90"/>
<circle cx="256.90" cy="253.00" r="2.75" fill="#5f93cf" stroke="#231f20" stroke-width="0.65"/>
<circle cx="249.50" cy="265.20" r="2.75" fill="#5f93cf" stroke="#231f20" stroke-width="0.65"/>
<circle cx="256.90" cy="265.20" r="2.75" fill="#5f93cf" stroke="#231f20" stroke-width="0.65"/>
<circle cx="264.00" cy="265.20" r="2.75" fill="#5f93cf" stroke="#231f20" stroke-width="0.65"/>
<circle cx="256.90" cy="277.10" r="2.75" fill="#5f93cf" stroke="#231f20" stroke-width="0.65"/>
<circle cx="260.40" cy="282.90" r="2.75" fill="#5f93cf" stroke="#231f20" stroke-width="0.65"/>
<circle cx="253.00" cy="284.60" r="2.75" fill="#5f93cf" stroke="#231f20" stroke-width="0.65"/>
<circle cx="256.90" cy="304.50" r="2.75" fill="#5f93cf" stroke="#231f20" stroke-width="0.65"/>
<circle cx="256.90" cy="333.30" r="2.75" fill="#5f93cf" stroke="#231f20" stroke-width="0.65"/>
<circle cx="249.50" cy="341.70" r="2.75" fill="#5f93cf" stroke="#231f20" stroke-width="0.65"/>
<circle cx="264.00" cy="344.90" r="2.75" fill="#5f93cf" stroke="#231f20" stroke-width="0.65"/>
<circle cx="256.70" cy="347.30" r="2.75" fill="#5f93cf" stroke="#231f20" stroke-width="0.65"/>
<circle cx="249.50" cy="355.21" r="2.75" fill="#5f93cf" stroke="#231f20" stroke-width="0.65"/>
<circle cx="256.90" cy="355.21" r="2.75" fill="#5f93cf" stroke="#231f20" stroke-width="0.65"/>
<circle cx="264.00" cy="355.21" r="2.75" fill="#5f93cf" stroke="#231f20" stroke-width="0.65"/>
<line x1="247.10" y1="308.50" x2="266.30" y2="308.50" stroke="#231f20" stroke-width="0.90"/>
<circle cx="281.90" cy="265.20" r="2.75" fill="#c5e2f5" stroke="#231f20" stroke-width="0.65"/>
<circle cx="288.90" cy="265.20" r="2.75" fill="#c5e2f5" stroke="#231f20" stroke-width="0.65"/>
<circle cx="285.40" cy="279.40" r="2.75" fill="#c5e2f5" stroke="#231f20" stroke-width="0.65"/>
<circle cx="292.40" cy="281.30" r="2.75" fill="#c5e2f5" stroke="#231f20" stroke-width="0.65"/>
<circle cx="278.40" cy="287.60" r="2.75" fill="#c5e2f5" stroke="#231f20" stroke-width="0.65"/>
<circle cx="285.40" cy="285.70" r="2.75" fill="#c5e2f5" stroke="#231f20" stroke-width="0.65"/>
<circle cx="292.40" cy="288.30" r="2.75" fill="#c5e2f5" stroke="#231f20" stroke-width="0.65"/>
<circle cx="285.40" cy="295.10" r="2.75" fill="#c5e2f5" stroke="#231f20" stroke-width="0.65"/>
<circle cx="285.40" cy="320.20" r="2.75" fill="#c5e2f5" stroke="#231f20" stroke-width="0.65"/>
<circle cx="285.40" cy="330.50" r="2.75" fill="#c5e2f5" stroke="#231f20" stroke-width="0.65"/>
<circle cx="285.40" cy="336.80" r="2.75" fill="#c5e2f5" stroke="#231f20" stroke-width="0.65"/>
<circle cx="278.40" cy="339.60" r="2.75" fill="#c5e2f5" stroke="#231f20" stroke-width="0.65"/>
<circle cx="285.40" cy="342.10" r="2.75" fill="#c5e2f5" stroke="#231f20" stroke-width="0.65"/>
<circle cx="278.40" cy="345.90" r="2.75" fill="#c5e2f5" stroke="#231f20" stroke-width="0.65"/>
<circle cx="292.40" cy="349.60" r="2.75" fill="#c5e2f5" stroke="#231f20" stroke-width="0.65"/>
<circle cx="281.90" cy="355.21" r="2.75" fill="#c5e2f5" stroke="#231f20" stroke-width="0.65"/>
<circle cx="288.90" cy="355.21" r="2.75" fill="#c5e2f5" stroke="#231f20" stroke-width="0.65"/>
<line x1="276.10" y1="313.20" x2="295.00" y2="313.20" stroke="#231f20" stroke-width="0.90"/>
<text transform="translate(320.00,222.00) scale(1.0800,1)" x="0.00" y="0" font-size="12.60" fill="#000" font-weight="bold">e</text>
<defs><clipPath id="pc"><path d="M400.0,388.5 C387.8,388.5 397.1,389.2 396.6,388.5 C396.1,387.8 396.7,386.4 396.8,384.0 C396.9,381.6 396.9,378.1 397.3,374.3 C397.8,370.5 400.2,363.9 399.5,361.0 C398.8,358.1 395.6,358.2 393.0,357.0 C390.4,355.8 386.4,354.5 384.0,353.5 C381.6,352.5 380.4,353.1 378.7,351.0 C377.0,348.9 374.3,344.1 373.7,341.0 C373.1,337.9 374.8,335.4 375.3,332.6 C375.9,329.8 376.1,326.7 377.0,324.2 C377.9,321.7 380.4,319.4 380.4,317.5 C380.4,315.6 377.9,314.8 377.0,312.5 C376.1,310.2 375.3,306.8 375.3,304.0 C375.3,301.2 377.6,298.2 377.0,295.7 C376.4,293.2 373.1,291.2 372.0,289.0 C370.9,286.8 369.6,284.3 370.3,282.3 C371.0,280.3 373.6,279.4 376.0,277.0 C378.4,274.6 382.8,270.7 384.5,268.0 C386.2,265.3 385.6,263.1 386.0,261.0 C386.4,258.9 386.5,257.7 387.0,255.4 C387.5,253.1 387.7,249.2 388.8,247.0 C389.9,244.8 391.9,243.2 393.8,242.0 C395.8,240.8 398.0,240.2 400.5,239.6 C403.0,239.0 405.8,238.5 408.9,238.6 C412.0,238.7 416.2,239.5 419.0,240.3 C421.8,241.2 423.8,242.3 425.7,243.7 C427.6,245.1 428.7,248.1 430.7,248.7 C432.7,249.2 435.2,247.8 437.5,247.0 C439.8,246.2 441.4,244.2 444.2,243.7 C447.0,243.1 450.8,244.3 454.2,243.7 C457.6,243.1 460.9,241.2 464.3,240.3 C467.7,239.5 471.3,238.6 474.4,238.6 C477.5,238.6 480.0,239.2 482.8,240.3 C485.6,241.4 489.0,243.1 491.2,245.3 C493.4,247.5 494.8,250.6 496.2,253.7 C497.6,256.8 498.8,260.4 499.6,263.8 C500.5,267.2 501.1,270.5 501.3,273.9 C501.5,277.3 500.9,280.6 500.6,284.0 C500.3,287.4 499.2,291.2 499.6,294.0 C500.0,296.8 502.3,297.3 503.0,300.7 C503.7,304.1 504.0,310.0 504.0,314.2 C504.0,318.4 503.4,322.1 503.0,326.0 C502.6,329.9 502.2,334.1 501.3,337.7 C500.4,341.3 499.6,345.2 497.9,347.7 C496.2,350.2 493.4,351.3 491.2,352.8 C489.0,354.3 486.8,354.7 484.5,356.5 C482.2,358.3 479.0,360.5 477.4,363.5 C475.8,366.5 475.3,370.9 474.7,374.3 C474.1,377.7 474.1,381.6 474.0,384.0 C473.9,386.4 474.5,387.8 473.8,388.5 C473.1,389.2 482.3,388.5 470.0,388.5 C457.7,388.5 412.2,388.5 400.0,388.5 Z"/></clipPath><filter id="bl" x="340" y="220" width="200" height="200" filterUnits="userSpaceOnUse"><feGaussianBlur stdDeviation="2.2"/></filter><filter id="surf" x="360" y="230" width="150" height="165" filterUnits="userSpaceOnUse"><feTurbulence type="fractalNoise" baseFrequency="0.085" numOctaves="2" seed="11" result="n"/><feDiffuseLighting in="n" surfaceScale="5" diffuseConstant="1.1" lighting-color="#ffffff" result="l"><feDistantLight azimuth="235" elevation="55"/></feDiffuseLighting><feSpecularLighting in="n" surfaceScale="5" specularConstant="1.0" specularExponent="25" lighting-color="#ffffff" result="s"><feDistantLight azimuth="235" elevation="55"/></feSpecularLighting><feComposite in="l" in2="SourceGraphic" operator="arithmetic" k1="1" k2="0" k3="0" k4="0" result="m"/><feComposite in="s" in2="SourceAlpha" operator="in" result="s2"/><feComposite in="m" in2="s2" operator="arithmetic" k1="0" k2="1" k3="0.35" k4="0"/></filter></defs>
<g filter="url(#surf)">
<path d="M400.0,388.5 C387.8,388.5 397.1,389.2 396.6,388.5 C396.1,387.8 396.7,386.4 396.8,384.0 C396.9,381.6 396.9,378.1 397.3,374.3 C397.8,370.5 400.2,363.9 399.5,361.0 C398.8,358.1 395.6,358.2 393.0,357.0 C390.4,355.8 386.4,354.5 384.0,353.5 C381.6,352.5 380.4,353.1 378.7,351.0 C377.0,348.9 374.3,344.1 373.7,341.0 C373.1,337.9 374.8,335.4 375.3,332.6 C375.9,329.8 376.1,326.7 377.0,324.2 C377.9,321.7 380.4,319.4 380.4,317.5 C380.4,315.6 377.9,314.8 377.0,312.5 C376.1,310.2 375.3,306.8 375.3,304.0 C375.3,301.2 377.6,298.2 377.0,295.7 C376.4,293.2 373.1,291.2 372.0,289.0 C370.9,286.8 369.6,284.3 370.3,282.3 C371.0,280.3 373.6,279.4 376.0,277.0 C378.4,274.6 382.8,270.7 384.5,268.0 C386.2,265.3 385.6,263.1 386.0,261.0 C386.4,258.9 386.5,257.7 387.0,255.4 C387.5,253.1 387.7,249.2 388.8,247.0 C389.9,244.8 391.9,243.2 393.8,242.0 C395.8,240.8 398.0,240.2 400.5,239.6 C403.0,239.0 405.8,238.5 408.9,238.6 C412.0,238.7 416.2,239.5 419.0,240.3 C421.8,241.2 423.8,242.3 425.7,243.7 C427.6,245.1 428.7,248.1 430.7,248.7 C432.7,249.2 435.2,247.8 437.5,247.0 C439.8,246.2 441.4,244.2 444.2,243.7 C447.0,243.1 450.8,244.3 454.2,243.7 C457.6,243.1 460.9,241.2 464.3,240.3 C467.7,239.5 471.3,238.6 474.4,238.6 C477.5,238.6 480.0,239.2 482.8,240.3 C485.6,241.4 489.0,243.1 491.2,245.3 C493.4,247.5 494.8,250.6 496.2,253.7 C497.6,256.8 498.8,260.4 499.6,263.8 C500.5,267.2 501.1,270.5 501.3,273.9 C501.5,277.3 500.9,280.6 500.6,284.0 C500.3,287.4 499.2,291.2 499.6,294.0 C500.0,296.8 502.3,297.3 503.0,300.7 C503.7,304.1 504.0,310.0 504.0,314.2 C504.0,318.4 503.4,322.1 503.0,326.0 C502.6,329.9 502.2,334.1 501.3,337.7 C500.4,341.3 499.6,345.2 497.9,347.7 C496.2,350.2 493.4,351.3 491.2,352.8 C489.0,354.3 486.8,354.7 484.5,356.5 C482.2,358.3 479.0,360.5 477.4,363.5 C475.8,366.5 475.3,370.9 474.7,374.3 C474.1,377.7 474.1,381.6 474.0,384.0 C473.9,386.4 474.5,387.8 473.8,388.5 C473.1,389.2 482.3,388.5 470.0,388.5 C457.7,388.5 412.2,388.5 400.0,388.5 Z" fill="#bebebe"/>
<g clip-path="url(#pc)"><path d="M400.0,388.5 C391.8,388.6 397.1,389.2 396.6,388.5 C396.1,387.8 396.7,386.4 396.8,384.0 C396.9,381.6 396.9,378.1 397.3,374.3 C397.8,370.5 400.2,363.9 399.5,361.0 C398.8,358.1 395.6,358.2 393.0,357.0 C390.4,355.8 386.4,354.5 384.0,353.5 C381.6,352.5 380.4,353.1 378.7,351.0 C377.0,348.9 374.3,344.1 373.7,341.0 C373.1,337.9 374.8,335.4 375.3,332.6 C375.9,329.8 376.1,326.7 377.0,324.2 C377.9,321.7 380.4,319.4 380.4,317.5 C380.4,315.6 377.9,314.8 377.0,312.5 C376.1,310.2 375.3,306.8 375.3,304.0 C375.3,301.2 377.6,298.2 377.0,295.7 C376.4,293.2 373.1,291.2 372.0,289.0 C370.9,286.8 369.6,284.3 370.3,282.3 C371.0,280.3 373.6,279.4 376.0,277.0 C378.4,274.6 382.8,270.7 384.5,268.0 C386.2,265.3 385.6,263.1 386.0,261.0 C386.4,258.9 386.5,257.7 387.0,255.4 C387.5,253.1 387.7,249.2 388.8,247.0 C389.9,244.8 391.9,243.2 393.8,242.0 C395.8,240.8 398.0,240.2 400.5,239.6 C403.0,239.0 405.8,238.5 408.9,238.6 C412.0,238.7 416.2,239.5 419.0,240.3 C421.8,241.2 423.8,242.3 425.7,243.7 C427.6,245.1 428.7,248.1 430.7,248.7 C432.7,249.2 436.9,243.9 437.5,247.0 C438.1,250.1 435.1,260.8 434.0,267.0 C432.9,273.2 431.8,278.4 430.7,284.0 C429.6,289.6 428.5,295.7 427.4,300.7 C426.3,305.7 425.1,309.5 424.0,314.0 C422.9,318.5 421.0,323.1 420.7,327.6 C420.4,332.1 420.6,336.0 422.3,341.0 C424.0,346.0 427.6,352.2 430.7,357.8 C433.8,363.4 438.3,369.6 440.8,374.6 C443.3,379.6 452.6,385.7 445.8,388.0 C439.0,390.3 408.2,388.4 400.0,388.5 Z" fill="#7e7e7e" filter="url(#bl)"/></g>
</g>
<path d="M391.5,267.0 C392.8,265.4 398.9,262.2 400.5,262.5 C402.1,262.8 401.3,267.0 401.0,269.0 C400.7,271.0 399.8,274.0 398.5,274.5 C397.2,275.0 394.2,273.2 393.0,272.0 C391.8,270.8 390.2,268.6 391.5,267.0 Z" fill="#2f78c8"/>
<path d="M392.1,283.2 C392.7,281.9 393.4,280.5 395.4,280.8 C397.4,281.1 402.4,283.0 404.3,284.9 C406.2,286.8 407.5,290.5 406.7,292.1 C405.9,293.7 401.3,294.6 399.4,294.6 C397.5,294.6 396.6,293.1 395.4,292.1 C394.2,291.2 392.7,290.4 392.1,288.9 C391.6,287.4 391.6,284.5 392.1,283.2 Z" fill="#2f78c8"/>
<path d="M383.2,301.0 C384.1,300.3 386.8,299.9 388.1,300.2 C389.5,300.5 391.2,301.5 391.3,302.7 C391.4,303.9 390.1,306.6 388.9,307.5 C387.7,308.4 385.1,308.8 384.0,308.3 C382.9,307.8 382.5,305.5 382.4,304.3 C382.3,303.1 382.2,301.7 383.2,301.0 Z" fill="#2b9237"/>
<path d="M409.1,296.2 C409.8,295.5 412.8,295.9 414.0,297.0 C415.2,298.1 416.7,301.5 416.4,302.7 C416.1,303.9 413.5,304.6 412.4,304.3 C411.3,304.0 410.4,302.4 409.9,301.0 C409.3,299.6 408.4,296.9 409.1,296.2 Z" fill="#2b9237"/>
<path d="M397.8,304.3 C398.7,302.8 400.9,302.3 401.8,303.5 C402.8,304.7 403.9,309.7 403.5,311.6 C403.1,313.5 400.6,314.7 399.4,314.8 C398.2,314.9 396.5,314.1 396.2,312.4 C395.9,310.6 396.9,305.8 397.8,304.3 Z" fill="#2b9237"/>
<path d="M392.1,314.0 C393.2,313.1 396.0,312.7 397.8,313.2 C399.6,313.7 401.6,315.6 402.7,317.2 C403.8,318.8 404.9,321.7 404.3,322.9 C403.8,324.1 401.1,324.5 399.4,324.5 C397.6,324.5 395.1,323.8 393.8,322.9 C392.5,321.9 391.6,320.3 391.3,318.8 C391.0,317.3 391.0,314.9 392.1,314.0 Z" fill="#2b9237"/>
<path d="M461.5,258.5 C462.7,257.3 466.2,257.3 468.0,256.8 C469.8,256.3 471.6,254.5 472.5,255.3 C473.4,256.1 473.9,259.7 473.2,261.5 C472.5,263.3 470.3,264.8 468.5,266.0 C466.7,267.2 463.8,269.1 462.5,268.8 C461.2,268.5 461.0,265.7 460.8,264.0 C460.6,262.3 460.3,259.7 461.5,258.5 Z" fill="#e8262a"/>
<path d="M495.0,262.5 C496.3,262.2 502.8,266.1 503.5,268.0 C504.2,269.9 500.8,273.7 499.5,274.0 C498.2,274.3 496.2,271.9 495.5,270.0 C494.8,268.1 493.7,262.8 495.0,262.5 Z" fill="#2f78c8"/>
<path d="M496.0,279.0 C497.0,279.2 501.2,284.1 501.5,285.5 C501.8,286.9 499.0,287.8 498.0,287.5 C497.0,287.2 495.8,285.4 495.5,284.0 C495.2,282.6 495.0,278.8 496.0,279.0 Z" fill="#2f78c8"/>
<path d="M497.5,300.0 C498.2,298.3 502.0,298.0 503.0,299.0 C504.0,300.0 504.2,304.3 503.5,306.0 C502.8,307.7 499.5,310.0 498.5,309.0 C497.5,308.0 496.8,301.7 497.5,300.0 Z" fill="#2b9237"/>
<path d="M490.0,316.5 C491.4,315.3 499.3,314.1 501.5,314.5 C503.7,314.9 504.4,317.8 503.0,319.0 C501.6,320.2 495.2,321.9 493.0,321.5 C490.8,321.1 488.6,317.7 490.0,316.5 Z" fill="#2b9237"/>
<path d="M467.4,318.8 C468.5,318.0 471.0,319.9 473.0,320.5 C475.0,321.1 478.3,321.0 479.5,322.1 C480.7,323.2 480.7,325.8 480.0,326.9 C479.3,328.0 477.2,328.2 475.5,328.5 C473.8,328.8 471.3,329.0 469.8,328.5 C468.3,328.0 467.0,326.9 466.6,325.3 C466.2,323.7 466.3,319.6 467.4,318.8 Z" fill="#262d8a"/>
<path d="M382.7,327.0 C383.8,325.9 385.2,324.7 387.0,324.4 C388.8,324.1 391.4,324.6 393.3,325.2 C395.2,325.8 397.0,326.6 398.6,328.0 C400.2,329.4 401.9,331.7 402.8,333.3 C403.7,334.9 403.2,335.7 403.9,337.5 C404.6,339.3 406.8,341.8 407.0,343.9 C407.2,346.0 406.1,348.6 404.9,350.2 C403.7,351.8 401.2,352.4 399.6,353.4 C398.0,354.4 396.8,355.9 395.4,356.1 C394.0,356.3 393.0,355.1 391.2,354.5 C389.4,353.9 386.9,353.4 384.8,352.3 C382.7,351.2 380.2,349.7 378.5,348.1 C376.8,346.5 375.1,344.9 374.7,342.8 C374.3,340.7 375.4,337.3 376.4,335.4 C377.4,333.5 379.6,332.6 380.6,331.2 C381.7,329.8 381.6,328.1 382.7,327.0 Z" fill="none" stroke="#e4961f" stroke-width="1.6"/>
<path d="M482.2,325.9 C483.4,325.1 485.7,324.5 487.5,324.4 C489.3,324.3 491.2,325.5 492.8,325.2 C494.4,324.9 495.9,322.4 497.0,322.3 C498.1,322.2 498.8,323.3 499.1,324.8 C499.4,326.3 498.2,329.1 498.7,331.2 C499.2,333.3 501.6,335.4 502.3,337.5 C503.0,339.6 503.4,341.8 502.9,343.9 C502.4,346.0 500.6,348.8 499.1,350.2 C497.6,351.6 495.6,351.9 493.8,352.3 C492.0,352.7 490.4,352.8 488.5,352.3 C486.6,351.8 483.9,350.4 482.2,349.2 C480.4,348.0 478.9,346.5 478.0,344.9 C477.1,343.3 476.9,341.5 476.9,339.6 C476.9,337.7 477.5,335.1 478.0,333.3 C478.5,331.6 479.4,330.3 480.1,329.1 C480.8,327.9 481.0,326.7 482.2,325.9 Z" fill="none" stroke="#e4961f" stroke-width="1.6"/>
<text transform="translate(367.00,271.40) scale(1.0125,1)" x="-25.68" y="0" font-size="7.00" fill="#3aa6e0">Glyc125</text>
<line x1="368.40" y1="268.10" x2="393.30" y2="268.10" stroke="#231f20" stroke-width="0.60"/>
<text transform="translate(360.20,285.90) scale(0.9052,1)" x="-26.07" y="0" font-size="7.00" fill="#3aa6e0">Q121aR</text>
<line x1="364.00" y1="283.20" x2="393.30" y2="283.20" stroke="#231f20" stroke-width="0.60"/>
<text transform="translate(360.20,300.30) scale(0.9064,1)" x="-21.40" y="0" font-size="7.00" fill="#3b9144">N172E</text>
<line x1="364.00" y1="297.70" x2="380.00" y2="297.70" stroke="#231f20" stroke-width="0.60"/>
<text transform="translate(359.40,307.60) scale(1.0694,1)" x="-14.40" y="0" font-size="7.00" fill="#3b9144">I80P</text>
<line x1="364.00" y1="305.30" x2="380.00" y2="305.30" stroke="#231f20" stroke-width="0.60"/>
<text transform="translate(358.90,316.10) scale(0.8976,1)" x="-20.50" y="0" font-size="7.00" fill="#3b9144">E119K</text>
<line x1="364.00" y1="312.40" x2="380.00" y2="312.40" stroke="#231f20" stroke-width="0.60"/>
<text transform="translate(339.20,321.40) scale(1.0663,1)" x="-18.29" y="0" font-size="7.00" fill="#3b9144">V82M</text>
<line x1="339.90" y1="319.40" x2="388.00" y2="319.40" stroke="#231f20" stroke-width="0.60"/>
<text transform="translate(360.70,326.60) scale(0.9794,1)" x="-20.62" y="0" font-size="7.00" fill="#3b9144">P82aF</text>
<line x1="364.00" y1="323.10" x2="386.80" y2="323.10" stroke="#231f20" stroke-width="0.60"/>
<text transform="translate(510.80,263.00) scale(1.0592,1)" x="0.00" y="0" font-size="7.00" fill="#e8262a">Glyc194</text>
<line x1="468.00" y1="261.00" x2="509.10" y2="261.00" stroke="#231f20" stroke-width="0.60"/>
<text transform="translate(512.10,270.20) scale(1.0203,1)" x="0.00" y="0" font-size="7.00" fill="#3aa6e0">Glyc125</text>
<line x1="502.70" y1="267.00" x2="510.00" y2="267.00" stroke="#231f20" stroke-width="0.60"/>
<text transform="translate(513.20,286.00) scale(0.9320,1)" x="0.00" y="0" font-size="7.00" fill="#3aa6e0">Q121aR</text>
<line x1="500.20" y1="284.00" x2="510.80" y2="284.00" stroke="#231f20" stroke-width="0.60"/>
<text transform="translate(511.90,305.90) scale(1.0694,1)" x="0.00" y="0" font-size="7.00" fill="#3b9144">I80P</text>
<line x1="503.50" y1="303.10" x2="510.00" y2="303.10" stroke="#231f20" stroke-width="0.60"/>
<text transform="translate(515.60,316.90) scale(1.0226,1)" x="0.00" y="0" font-size="7.00" fill="#3b9144">V82M</text>
<line x1="502.70" y1="315.30" x2="514.00" y2="315.30" stroke="#231f20" stroke-width="0.60"/>
<text transform="translate(513.70,322.10) scale(0.9552,1)" x="0.00" y="0" font-size="7.00" fill="#3b9144">P82aF</text>
<line x1="502.70" y1="320.00" x2="512.00" y2="320.00" stroke="#231f20" stroke-width="0.60"/>
<text transform="translate(513.70,329.00) scale(1.1154,1)" x="0.00" y="0" font-size="7.00" fill="#333b93">Glyc90</text>
<line x1="478.00" y1="326.90" x2="512.40" y2="326.90" stroke="#231f20" stroke-width="0.60"/>
<text transform="translate(513.20,344.70) scale(0.9150,1)" x="0.00" y="0" font-size="7.00" fill="#e9a43a">Base</text>
<line x1="497.80" y1="342.60" x2="509.20" y2="342.60" stroke="#231f20" stroke-width="0.60"/>
<text transform="translate(543.40,221.60) scale(1.0800,1)" x="0.00" y="0" font-size="12.60" fill="#000" font-weight="bold">f</text>
<line x1="601.80" y1="244.70" x2="601.80" y2="369.30" stroke="#58595b" stroke-width="0.75"/>
<line x1="596.80" y1="369.30" x2="601.80" y2="369.30" stroke="#58595b" stroke-width="0.75"/>
<text transform="translate(594.00,371.95) scale(1.0200,1)" x="-4.45" y="0" font-size="8.00" fill="#3c3c3e">0</text>
<line x1="596.80" y1="344.38" x2="601.80" y2="344.38" stroke="#58595b" stroke-width="0.75"/>
<text transform="translate(594.00,347.03) scale(1.0200,1)" x="-8.90" y="0" font-size="8.00" fill="#3c3c3e">20</text>
<line x1="596.80" y1="319.46" x2="601.80" y2="319.46" stroke="#58595b" stroke-width="0.75"/>
<text transform="translate(594.00,322.11) scale(1.0200,1)" x="-8.90" y="0" font-size="8.00" fill="#3c3c3e">40</text>
<line x1="596.80" y1="294.54" x2="601.80" y2="294.54" stroke="#58595b" stroke-width="0.75"/>
<text transform="translate(594.00,297.19) scale(1.0200,1)" x="-8.90" y="0" font-size="8.00" fill="#3c3c3e">60</text>
<line x1="596.80" y1="269.62" x2="601.80" y2="269.62" stroke="#58595b" stroke-width="0.75"/>
<text transform="translate(594.00,272.27) scale(1.0200,1)" x="-8.90" y="0" font-size="8.00" fill="#3c3c3e">80</text>
<line x1="596.80" y1="244.70" x2="601.80" y2="244.70" stroke="#58595b" stroke-width="0.75"/>
<text transform="translate(594.00,247.35) scale(1.0200,1)" x="-13.35" y="0" font-size="8.00" fill="#3c3c3e">100</text>
<line x1="596.90" y1="369.30" x2="684.50" y2="369.30" stroke="#58595b" stroke-width="0.75"/>
<line x1="625.40" y1="369.30" x2="625.40" y2="374.10" stroke="#58595b" stroke-width="0.75"/>
<line x1="661.00" y1="369.30" x2="661.00" y2="374.10" stroke="#58595b" stroke-width="0.75"/>
<rect x="614.20" y="290.80" width="22.40" height="78.50" fill="#283583" stroke="#3a3a3c" stroke-width="0.70"/>
<rect x="614.20" y="288.93" width="22.40" height="1.87" fill="#dea82c" stroke="#3a3a3c" stroke-width="0.70"/>
<rect x="614.20" y="275.35" width="22.40" height="13.58" fill="#0b8c45" stroke="#3a3a3c" stroke-width="0.70"/>
<rect x="614.20" y="263.02" width="22.40" height="12.34" fill="#4a8fd0" stroke="#3a3a3c" stroke-width="0.70"/>
<rect x="614.20" y="245.40" width="22.40" height="17.62" fill="#8e1b1f" stroke="#3a3a3c" stroke-width="0.70"/>
<rect x="649.80" y="366.81" width="22.40" height="2.49" fill="#231f20" stroke="#3a3a3c" stroke-width="0.70"/>
<rect x="649.80" y="362.20" width="22.40" height="4.61" fill="#283583" stroke="#3a3a3c" stroke-width="0.70"/>
<rect x="649.80" y="331.42" width="22.40" height="30.78" fill="#dea82c" stroke="#3a3a3c" stroke-width="0.70"/>
<rect x="649.80" y="297.41" width="22.40" height="34.02" fill="#0b8c45" stroke="#3a3a3c" stroke-width="0.70"/>
<rect x="649.80" y="276.60" width="22.40" height="20.81" fill="#4a8fd0" stroke="#3a3a3c" stroke-width="0.70"/>
<rect x="649.80" y="245.40" width="22.40" height="31.20" fill="#8e1b1f" stroke="#3a3a3c" stroke-width="0.70"/>
<text transform="translate(622.80,238.90) scale(0.9360,1)" x="-12.64" y="0" font-size="9.00" fill="#231f20"><tspan font-style="italic">n</tspan> = 58</text>
<text transform="translate(660.00,238.90) scale(0.9360,1)" x="-12.64" y="0" font-size="9.00" fill="#231f20"><tspan font-style="italic">n</tspan> = 77</text>
<text transform="translate(625.70,384.80) scale(0.9800,1)" x="-2.50" y="0" font-size="9.00" fill="#231f20">2</text>
<text transform="translate(626.10,393.50) scale(0.9565,1)" x="-12.76" y="0" font-size="9.00" fill="#231f20">weeks</text>
<text transform="translate(661.60,384.80) scale(0.9800,1)" x="-2.50" y="0" font-size="9.00" fill="#231f20">6</text>
<text transform="translate(662.00,393.50) scale(1.0232,1)" x="-14.76" y="0" font-size="9.00" fill="#231f20">months</text>
<text transform="translate(574.10,307.40) rotate(-90) scale(0.9801,1)" x="-28.26" y="0" font-size="9.00" fill="#231f20">Percent mAbs</text>
<rect x="588.00" y="401.60" width="7.20" height="7.20" fill="#8e1b1f" stroke="#3a3a3c" stroke-width="0.70"/>
<text transform="translate(599.70,408.00) scale(0.9800,1)" x="0.00" y="0" font-size="9.00" fill="#231f20">RBS</text>
<rect x="588.00" y="413.20" width="7.20" height="7.20" fill="#4a8fd0" stroke="#3a3a3c" stroke-width="0.70"/>
<text transform="translate(599.70,419.60) scale(1.0053,1)" x="0.00" y="0" font-size="9.00" fill="#231f20">Upper lateral</text>
<rect x="588.00" y="424.80" width="7.20" height="7.20" fill="#0b8c45" stroke="#3a3a3c" stroke-width="0.70"/>
<text transform="translate(599.70,431.20)" x="0.00" y="0" font-size="9.00" fill="#231f20">Lower lateral</text>
<rect x="588.00" y="436.40" width="7.20" height="7.20" fill="#dea82c" stroke="#3a3a3c" stroke-width="0.70"/>
<text transform="translate(599.70,442.80) scale(0.9800,1)" x="0.00" y="0" font-size="9.00" fill="#231f20">Base</text>
<rect x="588.00" y="448.00" width="7.20" height="7.20" fill="#283583" stroke="#3a3a3c" stroke-width="0.70"/>
<text transform="translate(599.70,454.40) scale(1.0057,1)" x="0.00" y="0" font-size="9.00" fill="#231f20">Glyc90-sensitive</text>
<text transform="translate(0.80,432.00) scale(1.0800,1)" x="0.00" y="0" font-size="12.60" fill="#000" font-weight="bold">g</text>
<line x1="43.60" y1="434.50" x2="43.60" y2="558.70" stroke="#58595b" stroke-width="0.75"/>
<line x1="38.60" y1="558.70" x2="43.60" y2="558.70" stroke="#58595b" stroke-width="0.75"/>
<text transform="translate(35.00,561.35) scale(1.0200,1)" x="-4.45" y="0" font-size="8.00" fill="#3c3c3e">0</text>
<line x1="38.60" y1="533.86" x2="43.60" y2="533.86" stroke="#58595b" stroke-width="0.75"/>
<text transform="translate(35.00,536.51) scale(1.0200,1)" x="-8.90" y="0" font-size="8.00" fill="#3c3c3e">20</text>
<line x1="38.60" y1="509.02" x2="43.60" y2="509.02" stroke="#58595b" stroke-width="0.75"/>
<text transform="translate(35.00,511.67) scale(1.0200,1)" x="-8.90" y="0" font-size="8.00" fill="#3c3c3e">40</text>
<line x1="38.60" y1="484.18" x2="43.60" y2="484.18" stroke="#58595b" stroke-width="0.75"/>
<text transform="translate(35.00,486.83) scale(1.0200,1)" x="-8.90" y="0" font-size="8.00" fill="#3c3c3e">60</text>
<line x1="38.60" y1="459.34" x2="43.60" y2="459.34" stroke="#58595b" stroke-width="0.75"/>
<text transform="translate(35.00,461.99) scale(1.0200,1)" x="-8.90" y="0" font-size="8.00" fill="#3c3c3e">80</text>
<line x1="38.60" y1="434.50" x2="43.60" y2="434.50" stroke="#58595b" stroke-width="0.75"/>
<text transform="translate(35.00,437.15) scale(1.0200,1)" x="-13.35" y="0" font-size="8.00" fill="#3c3c3e">100</text>
<line x1="38.60" y1="558.70" x2="168.40" y2="558.70" stroke="#58595b" stroke-width="0.75"/>
<line x1="59.30" y1="558.70" x2="59.30" y2="563.50" stroke="#58595b" stroke-width="0.75"/>
<line x1="82.70" y1="558.70" x2="82.70" y2="563.50" stroke="#58595b" stroke-width="0.75"/>
<line x1="106.00" y1="558.70" x2="106.00" y2="563.50" stroke="#58595b" stroke-width="0.75"/>
<line x1="129.40" y1="558.70" x2="129.40" y2="563.50" stroke="#58595b" stroke-width="0.75"/>
<line x1="152.80" y1="558.70" x2="152.80" y2="563.50" stroke="#58595b" stroke-width="0.75"/>
<rect x="51.90" y="467.04" width="14.80" height="91.66" fill="#231f20" stroke="#3a3a3c" stroke-width="0.70"/>
<rect x="51.90" y="435.20" width="14.80" height="31.84" fill="#bcbec0" stroke="#3a3a3c" stroke-width="0.70"/>
<rect x="75.30" y="500.57" width="14.80" height="58.13" fill="#231f20" stroke="#3a3a3c" stroke-width="0.70"/>
<rect x="75.30" y="435.20" width="14.80" height="65.37" fill="#bcbec0" stroke="#3a3a3c" stroke-width="0.70"/>
<rect x="98.60" y="550.01" width="14.80" height="8.69" fill="#231f20" stroke="#3a3a3c" stroke-width="0.70"/>
<rect x="98.60" y="435.20" width="14.80" height="114.81" fill="#bcbec0" stroke="#3a3a3c" stroke-width="0.70"/>
<rect x="122.00" y="435.20" width="14.80" height="123.50" fill="#bcbec0" stroke="#3a3a3c" stroke-width="0.70"/>
<rect x="145.40" y="435.20" width="14.80" height="123.50" fill="#bcbec0" stroke="#3a3a3c" stroke-width="0.70"/>
<text transform="translate(17.00,497.60) rotate(-90) scale(0.9316,1)" x="-26.89" y="0" font-size="9.00" fill="#231f20">Percent HAI+</text>
<text transform="translate(64.30,572.60) rotate(-45) scale(1.0470,1)" x="-17.68" y="0" font-size="8.60" fill="#231f20">RBS</text>
<text transform="translate(88.30,572.60) rotate(-45) scale(1.0470,1)" x="-49.24" y="0" font-size="8.60" fill="#231f20">Upper lateral</text>
<text transform="translate(110.60,572.60) rotate(-45) scale(1.0470,1)" x="-49.24" y="0" font-size="8.60" fill="#231f20">Lower lateral</text>
<text transform="translate(133.30,571.60) rotate(-45) scale(1.0470,1)" x="-19.60" y="0" font-size="8.60" fill="#231f20">Base</text>
<text transform="translate(155.40,571.60) rotate(-45) scale(1.0470,1)" x="-63.09" y="0" font-size="8.60" fill="#231f20">Glyc90-sensitive</text>
<rect x="175.00" y="435.20" width="7.20" height="7.00" fill="#231f20" stroke="#3a3a3c" stroke-width="0.70"/>
<text transform="translate(186.60,441.40) scale(0.9082,1)" x="0.00" y="0" font-size="9.00" fill="#231f20">HAI+</text>
<rect x="175.00" y="446.30" width="7.20" height="7.00" fill="#bcbec0" stroke="#3a3a3c" stroke-width="0.70"/>
<text transform="translate(186.60,452.50) scale(0.9196,1)" x="0.00" y="0" font-size="9.00" fill="#231f20">HAI–</text>
<text transform="translate(257.40,432.40) scale(1.0800,1)" x="0.00" y="0" font-size="12.60" fill="#000" font-weight="bold">h</text>
<line x1="299.50" y1="434.90" x2="299.50" y2="559.10" stroke="#58595b" stroke-width="0.75"/>
<line x1="294.50" y1="434.90" x2="299.50" y2="434.90" stroke="#58595b" stroke-width="0.75"/>
<text transform="translate(291.10,437.55) scale(1.0200,1)" x="-20.02" y="0" font-size="8.00" fill="#3c3c3e">0.001</text>
<line x1="294.50" y1="459.80" x2="299.50" y2="459.80" stroke="#58595b" stroke-width="0.75"/>
<text transform="translate(291.10,462.45) scale(1.0200,1)" x="-15.57" y="0" font-size="8.00" fill="#3c3c3e">0.01</text>
<line x1="294.50" y1="484.70" x2="299.50" y2="484.70" stroke="#58595b" stroke-width="0.75"/>
<text transform="translate(291.10,487.35) scale(1.0200,1)" x="-11.12" y="0" font-size="8.00" fill="#3c3c3e">0.1</text>
<line x1="294.50" y1="509.60" x2="299.50" y2="509.60" stroke="#58595b" stroke-width="0.75"/>
<text transform="translate(291.10,512.25) scale(1.0200,1)" x="-4.45" y="0" font-size="8.00" fill="#3c3c3e">1</text>
<line x1="294.50" y1="534.50" x2="299.50" y2="534.50" stroke="#58595b" stroke-width="0.75"/>
<text transform="translate(291.10,537.15) scale(1.0200,1)" x="-8.90" y="0" font-size="8.00" fill="#3c3c3e">10</text>
<line x1="294.50" y1="544.41" x2="299.50" y2="544.41" stroke="#58595b" stroke-width="0.75"/>
<text transform="translate(291.10,547.06) scale(1.0200,1)" x="-8.90" y="0" font-size="8.00" fill="#3c3c3e">25</text>
<line x1="294.70" y1="559.10" x2="423.60" y2="559.10" stroke="#58595b" stroke-width="0.75"/>
<line x1="314.60" y1="559.10" x2="314.60" y2="563.90" stroke="#58595b" stroke-width="0.75"/>
<line x1="338.00" y1="559.10" x2="338.00" y2="563.90" stroke="#58595b" stroke-width="0.75"/>
<line x1="361.40" y1="559.10" x2="361.40" y2="563.90" stroke="#58595b" stroke-width="0.75"/>
<line x1="384.70" y1="559.10" x2="384.70" y2="563.90" stroke="#58595b" stroke-width="0.75"/>
<line x1="408.00" y1="559.10" x2="408.00" y2="563.90" stroke="#58595b" stroke-width="0.75"/>
<line x1="299.50" y1="544.41" x2="424.30" y2="544.41" stroke="#231f20" stroke-width="0.90" stroke-dasharray="4,2.7"/>
<text transform="translate(319.90,572.10) rotate(-45) scale(1.0470,1)" x="-17.68" y="0" font-size="8.60" fill="#231f20">RBS</text>
<text transform="translate(343.60,572.60) rotate(-45) scale(1.0470,1)" x="-49.24" y="0" font-size="8.60" fill="#231f20">Upper lateral</text>
<text transform="translate(367.00,572.60) rotate(-45) scale(1.0470,1)" x="-49.24" y="0" font-size="8.60" fill="#231f20">Lower lateral</text>
<text transform="translate(388.80,571.60) rotate(-45) scale(1.0470,1)" x="-19.60" y="0" font-size="8.60" fill="#231f20">Base</text>
<text transform="translate(412.00,572.10) rotate(-45) scale(1.0470,1)" x="-63.09" y="0" font-size="8.60" fill="#231f20">Glyc90-sensitive</text>
<text transform="translate(265.80,497.40) rotate(-90) scale(0.9349,1)" x="-28.08" y="0" font-size="9.60" fill="#231f20">IC<tspan font-size="6.53" dy="2.00">80</tspan><tspan dy="-2.00"> (µg ml</tspan><tspan font-size="5.76" dy="-3.20">−1</tspan><tspan dy="3.20">)</tspan></text>
<circle cx="312.20" cy="454.70" r="2.75" fill="#5f93cf" stroke="#231f20" stroke-width="0.65"/>
<circle cx="317.40" cy="454.70" r="2.75" fill="#c5e2f5" stroke="#231f20" stroke-width="0.65"/>
<circle cx="315.20" cy="457.30" r="2.75" fill="#231f20" stroke="#231f20" stroke-width="0.65"/>
<circle cx="315.00" cy="468.20" r="2.75" fill="#c5e2f5" stroke="#231f20" stroke-width="0.65"/>
<circle cx="317.40" cy="471.70" r="2.75" fill="#c5e2f5" stroke="#231f20" stroke-width="0.65"/>
<circle cx="313.10" cy="473.40" r="2.75" fill="#c5e2f5" stroke="#231f20" stroke-width="0.65"/>
<circle cx="309.60" cy="474.70" r="2.75" fill="#231f20" stroke="#231f20" stroke-width="0.65"/>
<circle cx="311.30" cy="477.80" r="2.75" fill="#c5e2f5" stroke="#231f20" stroke-width="0.65"/>
<circle cx="317.40" cy="476.90" r="2.75" fill="#c5e2f5" stroke="#231f20" stroke-width="0.65"/>
<circle cx="315.00" cy="484.80" r="2.75" fill="#c5e2f5" stroke="#231f20" stroke-width="0.65"/>
<circle cx="315.00" cy="494.30" r="2.75" fill="#5f93cf" stroke="#231f20" stroke-width="0.65"/>
<circle cx="314.50" cy="502.80" r="2.75" fill="#134a9e" stroke="#231f20" stroke-width="0.65"/>
<circle cx="316.90" cy="509.80" r="2.75" fill="#c5e2f5" stroke="#231f20" stroke-width="0.65"/>
<circle cx="312.70" cy="513.30" r="2.75" fill="#231f20" stroke="#231f20" stroke-width="0.65"/>
<circle cx="312.70" cy="518.70" r="2.75" fill="#5f93cf" stroke="#231f20" stroke-width="0.65"/>
<circle cx="309.20" cy="522.70" r="2.75" fill="#5f93cf" stroke="#231f20" stroke-width="0.65"/>
<circle cx="315.00" cy="524.10" r="2.75" fill="#5f93cf" stroke="#231f20" stroke-width="0.65"/>
<circle cx="319.90" cy="524.10" r="2.75" fill="#231f20" stroke="#231f20" stroke-width="0.65"/>
<circle cx="309.90" cy="529.20" r="2.75" fill="#c5e2f5" stroke="#231f20" stroke-width="0.65"/>
<circle cx="312.20" cy="528.50" r="2.75" fill="#231f20" stroke="#231f20" stroke-width="0.65"/>
<circle cx="317.60" cy="530.80" r="2.75" fill="#5f93cf" stroke="#231f20" stroke-width="0.65"/>
<circle cx="314.50" cy="537.40" r="2.75" fill="#c5e2f5" stroke="#231f20" stroke-width="0.65"/>
<circle cx="313.40" cy="544.41" r="2.75" fill="#134a9e" stroke="#231f20" stroke-width="0.65"/>
<circle cx="316.40" cy="544.41" r="2.75" fill="#134a9e" stroke="#231f20" stroke-width="0.65"/>
<circle cx="338.50" cy="442.80" r="2.75" fill="#5f93cf" stroke="#231f20" stroke-width="0.65"/>
<circle cx="335.80" cy="454.70" r="2.75" fill="#5f93cf" stroke="#231f20" stroke-width="0.65"/>
<circle cx="338.50" cy="454.70" r="2.75" fill="#5f93cf" stroke="#231f20" stroke-width="0.65"/>
<circle cx="340.60" cy="454.70" r="2.75" fill="#5f93cf" stroke="#231f20" stroke-width="0.65"/>
<circle cx="338.50" cy="467.00" r="2.75" fill="#5f93cf" stroke="#231f20" stroke-width="0.65"/>
<circle cx="339.30" cy="472.20" r="2.75" fill="#5f93cf" stroke="#231f20" stroke-width="0.65"/>
<circle cx="337.60" cy="473.80" r="2.75" fill="#5f93cf" stroke="#231f20" stroke-width="0.65"/>
<circle cx="339.10" cy="533.90" r="2.75" fill="#5f93cf" stroke="#231f20" stroke-width="0.65"/>
<circle cx="337.90" cy="536.20" r="2.75" fill="#5f93cf" stroke="#231f20" stroke-width="0.65"/>
<circle cx="336.30" cy="538.50" r="2.75" fill="#5f93cf" stroke="#231f20" stroke-width="0.65"/>
<circle cx="332.70" cy="544.41" r="2.75" fill="#5f93cf" stroke="#231f20" stroke-width="0.65"/>
<circle cx="335.50" cy="544.41" r="2.75" fill="#c5e2f5" stroke="#231f20" stroke-width="0.65"/>
<circle cx="340.20" cy="544.41" r="2.75" fill="#c5e2f5" stroke="#231f20" stroke-width="0.65"/>
<circle cx="343.70" cy="544.41" r="2.75" fill="#5f93cf" stroke="#231f20" stroke-width="0.65"/>
<circle cx="334.40" cy="542.00" r="2.75" fill="#231f20" stroke="#231f20" stroke-width="0.65"/>
<circle cx="361.50" cy="477.20" r="2.75" fill="#134a9e" stroke="#231f20" stroke-width="0.65"/>
<circle cx="361.50" cy="486.70" r="2.75" fill="#231f20" stroke="#231f20" stroke-width="0.65"/>
<circle cx="361.50" cy="495.70" r="2.75" fill="#134a9e" stroke="#231f20" stroke-width="0.65"/>
<circle cx="361.50" cy="507.80" r="2.75" fill="#134a9e" stroke="#231f20" stroke-width="0.65"/>
<circle cx="361.50" cy="509.60" r="2.75" fill="#134a9e" stroke="#231f20" stroke-width="0.65"/>
<circle cx="361.50" cy="515.10" r="2.75" fill="#231f20" stroke="#231f20" stroke-width="0.65"/>
<circle cx="361.50" cy="527.00" r="2.75" fill="#134a9e" stroke="#231f20" stroke-width="0.65"/>
<circle cx="361.50" cy="529.20" r="2.75" fill="#134a9e" stroke="#231f20" stroke-width="0.65"/>
<circle cx="361.50" cy="531.40" r="2.75" fill="#134a9e" stroke="#231f20" stroke-width="0.65"/>
<circle cx="361.50" cy="533.60" r="2.75" fill="#134a9e" stroke="#231f20" stroke-width="0.65"/>
<circle cx="361.50" cy="535.50" r="2.75" fill="#c5e2f5" stroke="#231f20" stroke-width="0.65"/>
<circle cx="356.70" cy="539.90" r="2.75" fill="#c5e2f5" stroke="#231f20" stroke-width="0.65"/>
<circle cx="355.50" cy="544.41" r="2.75" fill="#134a9e" stroke="#231f20" stroke-width="0.65"/>
<circle cx="358.50" cy="544.41" r="2.75" fill="#231f20" stroke="#231f20" stroke-width="0.65"/>
<circle cx="361.50" cy="544.41" r="2.75" fill="#231f20" stroke="#231f20" stroke-width="0.65"/>
<circle cx="364.50" cy="544.41" r="2.75" fill="#231f20" stroke="#231f20" stroke-width="0.65"/>
<circle cx="367.50" cy="544.41" r="2.75" fill="#134a9e" stroke="#231f20" stroke-width="0.65"/>
<circle cx="384.80" cy="475.30" r="2.75" fill="#134a9e" stroke="#231f20" stroke-width="0.65"/>
<circle cx="383.20" cy="494.50" r="2.75" fill="#134a9e" stroke="#231f20" stroke-width="0.65"/>
<circle cx="386.80" cy="492.80" r="2.75" fill="#134a9e" stroke="#231f20" stroke-width="0.65"/>
<circle cx="379.50" cy="500.40" r="2.75" fill="#134a9e" stroke="#231f20" stroke-width="0.65"/>
<circle cx="386.50" cy="502.30" r="2.75" fill="#134a9e" stroke="#231f20" stroke-width="0.65"/>
<circle cx="383.20" cy="504.80" r="2.75" fill="#134a9e" stroke="#231f20" stroke-width="0.65"/>
<circle cx="379.50" cy="510.30" r="2.75" fill="#134a9e" stroke="#231f20" stroke-width="0.65"/>
<circle cx="390.20" cy="511.00" r="2.75" fill="#134a9e" stroke="#231f20" stroke-width="0.65"/>
<circle cx="386.50" cy="514.20" r="2.75" fill="#134a9e" stroke="#231f20" stroke-width="0.65"/>
<circle cx="380.00" cy="516.60" r="2.75" fill="#134a9e" stroke="#231f20" stroke-width="0.65"/>
<circle cx="383.20" cy="516.90" r="2.75" fill="#134a9e" stroke="#231f20" stroke-width="0.65"/>
<circle cx="390.20" cy="519.00" r="2.75" fill="#134a9e" stroke="#231f20" stroke-width="0.65"/>
<circle cx="386.50" cy="520.20" r="2.75" fill="#134a9e" stroke="#231f20" stroke-width="0.65"/>
<circle cx="379.50" cy="523.70" r="2.75" fill="#134a9e" stroke="#231f20" stroke-width="0.65"/>
<circle cx="383.20" cy="525.60" r="2.75" fill="#134a9e" stroke="#231f20" stroke-width="0.65"/>
<circle cx="390.20" cy="524.10" r="2.75" fill="#134a9e" stroke="#231f20" stroke-width="0.65"/>
<circle cx="386.50" cy="527.30" r="2.75" fill="#134a9e" stroke="#231f20" stroke-width="0.65"/>
<circle cx="380.70" cy="544.41" r="2.75" fill="#c5e2f5" stroke="#231f20" stroke-width="0.65"/>
<circle cx="384.60" cy="544.41" r="2.75" fill="#134a9e" stroke="#231f20" stroke-width="0.65"/>
<circle cx="388.40" cy="544.41" r="2.75" fill="#134a9e" stroke="#231f20" stroke-width="0.65"/>
<circle cx="408.00" cy="524.10" r="2.75" fill="#231f20" stroke="#231f20" stroke-width="0.65"/>
<circle cx="408.00" cy="534.00" r="2.75" fill="#231f20" stroke="#231f20" stroke-width="0.65"/>
<circle cx="401.10" cy="544.41" r="2.75" fill="#231f20" stroke="#231f20" stroke-width="0.65"/>
<circle cx="402.35" cy="544.41" r="2.75" fill="#231f20" stroke="#231f20" stroke-width="0.65"/>
<circle cx="403.60" cy="544.41" r="2.75" fill="#231f20" stroke="#231f20" stroke-width="0.65"/>
<circle cx="404.85" cy="544.41" r="2.75" fill="#231f20" stroke="#231f20" stroke-width="0.65"/>
<circle cx="406.10" cy="544.41" r="2.75" fill="#231f20" stroke="#231f20" stroke-width="0.65"/>
<circle cx="407.35" cy="544.41" r="2.75" fill="#231f20" stroke="#231f20" stroke-width="0.65"/>
<circle cx="408.60" cy="544.41" r="2.75" fill="#231f20" stroke="#231f20" stroke-width="0.65"/>
<circle cx="409.85" cy="544.41" r="2.75" fill="#231f20" stroke="#231f20" stroke-width="0.65"/>
<circle cx="411.10" cy="544.41" r="2.75" fill="#231f20" stroke="#231f20" stroke-width="0.65"/>
<circle cx="412.35" cy="544.41" r="2.75" fill="#231f20" stroke="#231f20" stroke-width="0.65"/>
<circle cx="413.60" cy="544.41" r="2.75" fill="#231f20" stroke="#231f20" stroke-width="0.65"/>
<line x1="305.20" y1="503.70" x2="324.50" y2="503.70" stroke="#6d6e71" stroke-width="0.90"/>
<line x1="328.80" y1="507.10" x2="347.50" y2="507.10" stroke="#231f20" stroke-width="1.00"/>
<line x1="352.40" y1="532.10" x2="370.80" y2="532.10" stroke="#231f20" stroke-width="0.90"/>
<line x1="375.20" y1="515.50" x2="394.60" y2="515.50" stroke="#231f20" stroke-width="0.90"/>
<circle cx="428.00" cy="435.00" r="2.80" fill="#231f20" stroke="#231f20" stroke-width="0.65"/>
<text transform="translate(433.80,437.80) scale(0.9540,1)" x="0.00" y="0" font-size="9.00" fill="#231f20">H5/H2/H1</text>
<circle cx="428.00" cy="447.20" r="2.80" fill="#134a9e" stroke="#231f20" stroke-width="0.65"/>
<text transform="translate(433.80,450.00) scale(0.9800,1)" x="0.00" y="0" font-size="9.00" fill="#231f20">6–7 H5</text>
<circle cx="428.00" cy="459.40" r="2.80" fill="#5f93cf" stroke="#231f20" stroke-width="0.65"/>
<text transform="translate(433.80,462.20) scale(0.9800,1)" x="0.00" y="0" font-size="9.00" fill="#231f20">4–5 H5</text>
<circle cx="428.00" cy="471.60" r="2.80" fill="#c5e2f5" stroke="#231f20" stroke-width="0.65"/>
<text transform="translate(433.80,474.40) scale(0.9800,1)" x="0.00" y="0" font-size="9.00" fill="#231f20">2–3 H5</text>
</svg>
</body></html>
